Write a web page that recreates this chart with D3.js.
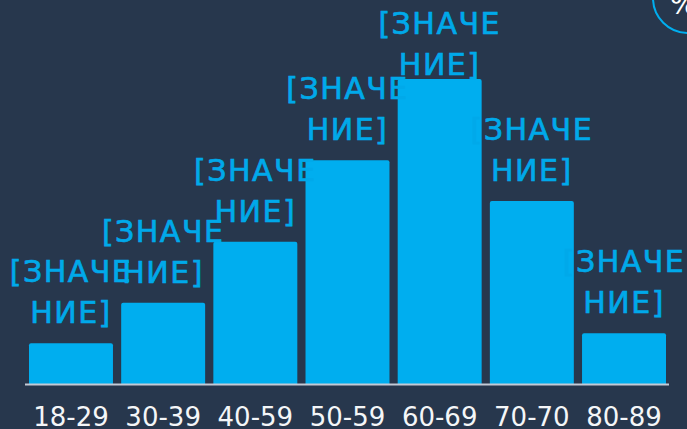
<!DOCTYPE html>
<html>
<head>
<meta charset="utf-8">
<script src="https://cdnjs.cloudflare.com/ajax/libs/d3/7.8.5/d3.min.js"></script>
<style>
  html, body { margin: 0; padding: 0; background: #27374d; overflow: hidden; }
</style>
</head>
<body>
<svg id="chart"></svg>
<script>
const ageGroups = ["18-29", "30-39", "40-59", "50-59", "60-69", "70-70", "80-89"]
const shares = [4, 8, 14, 22, 30, 18, 5]
const labelLines = ["[ЗНАЧЕ", "НИЕ]"]

function getConfig() {
  let width = 687
  let height = 429
  let container = d3.select("#chart")
    .attr("width", width)
    .attr("height", height)
    .style("display", "block")
  return { width, height, container }
}

function getScales() {
  let xScale = d3.scaleBand()
    .domain(ageGroups)
    .range([29, 666])
    .paddingInner(0.089)
  let yScale = d3.scaleLinear()
    .domain([0, 30])
    .range([384, 79])
  return { xScale, yScale }
}

// bars only get the small rounding on the top corners
function barPath(x, y, w, bottom) {
  let r = 2
  return `M${x},${bottom}V${y + r}Q${x},${y} ${x + r},${y}H${x + w - r}Q${x + w},${y} ${x + w},${y + r}V${bottom}Z`
}

function drawBars(scales, config) {
  let { xScale, yScale } = scales
  config.container.append("g")
    .selectAll("path")
    .data(shares)
    .enter()
    .append("path")
    .attr("d", (d, i) => barPath(xScale(ageGroups[i]), yScale(d), xScale.bandwidth(), yScale(0)))
    .style("fill", "#00aeef")
}

function drawAxis(scales, config) {
  let { xScale, yScale } = scales
  let axis = config.container.append("g")
    .attr("transform", "translate(0," + yScale(0) + ")")
    .call(d3.axisBottom(xScale).tickSize(0).tickPadding(24))
  axis.select(".domain")
    .attr("d", "M25,0.5H669")
    .style("stroke", "#c3cad6")
    .style("stroke-width", 2)
  axis.selectAll("text")
    .style("font-family", "'DejaVu Sans', sans-serif")
    .style("font-size", "26px")
    .style("fill", "#f4f6f8")
}

function drawLabels(scales, config) {
  let { xScale, yScale } = scales
  let groups = config.container.append("g")
    .selectAll("text")
    .data(shares)
    .enter()
    .append("text")
    .attr("text-anchor", "middle")
    .style("font-family", "'DejaVu Sans', sans-serif")
    .style("font-size", "30px")
    .style("letter-spacing", "1.5px")
    .style("fill", "#00a9ea")
    .style("stroke", "#00a9ea")
    .style("stroke-width", 0.7)

  labelLines.forEach((line, k) => {
    groups.append("tspan")
      .attr("x", (d, i) => xScale(ageGroups[i]) + xScale.bandwidth() / 2)
      // the tallest label gets pushed down so it stays inside the picture
      .attr("y", d => Math.max(yScale(d) - 61, 34) + k * 41)
      .text(line)
  })
}

function drawBadge(config) {
  config.container.append("circle")
    .attr("cx", 688)
    .attr("cy", -2)
    .attr("r", 35)
    .style("fill", "none")
    .style("stroke", "#00aeef")
    .style("stroke-width", 2)
  config.container.append("text")
    .attr("x", 670)
    .attr("y", 14)
    .style("font-family", "'DejaVu Sans', sans-serif")
    .style("font-size", "28px")
    .style("fill", "#ffffff")
    .text("%")
}

let config = getConfig()
let scales = getScales()
drawBars(scales, config)
drawAxis(scales, config)
drawLabels(scales, config)
drawBadge(config)
</script>
</body>
</html>
